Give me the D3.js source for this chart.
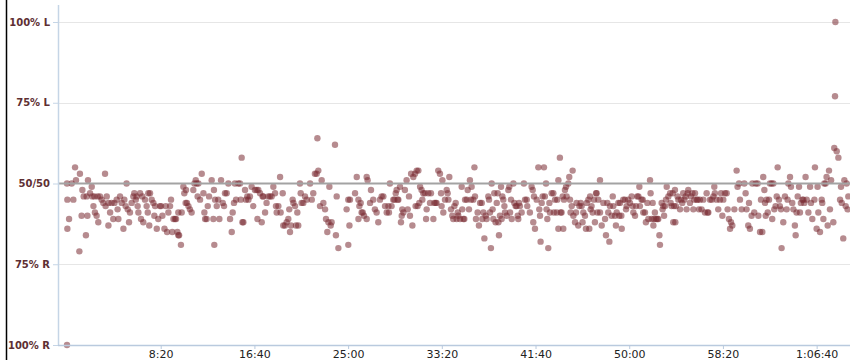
<!DOCTYPE html>
<html><head><meta charset="utf-8">
<script src="https://cdn.jsdelivr.net/npm/d3@7"></script>
<style>html,body{margin:0;padding:0;background:#fff;} svg{display:block}</style>
</head><body><svg id="c" width="850" height="360"></svg>
<script>
const yTickValues=[0,25,50,75,100];
const yTickLabels=["100% R","75% R","50/50","75% L","100% L"];
const xTickValues=[500,1000,1500,2000,2500,3000,3500,4000];

// [seconds, % left (0 = 100% R, 100 = 100% L)]
const seg1=[[0,0],[0,50],[25,50],[2,45],[34,45],[11,39],[2,36],[43,55],[48,51],[69,53],[66,29],[82,48],[89,46],[105,46],[78,40],[109,40],[101,34],[112,51],[123,47],[132,49],[135,46],[146,46],[141,43],[149,41],[158,40],[164,46],[167,38],[176,46],[185,45],[203,53],[194,44],[212,46],[206,43],[221,44],[221,37],[230,41],[238,44],[247,39],[253,44],[265,45],[270,42],[274,39],[283,46],[292,44],[301,36],[306,45],[313,43],[318,50],[324,42],[331,38],[336,41],[345,44],[354,46],[359,47],[367,45],[372,46],[377,43],[381,41],[390,47],[395,39],[402,46],[407,38],[416,45],[425,43],[431,41],[434,47],[443,47],[452,45],[439,37],[461,44],[466,40],[470,43],[479,36],[487,39],[496,43],[502,43],[509,40],[520,36],[527,43],[534,35],[541,41],[550,43],[555,45],[562,35],[568,39],[576,39],[582,39],[589,35],[594,34],[598,34],[594,41],[608,31],[612,41],[621,49],[626,47],[633,44],[640,44],[648,43],[656,42],[635,48],[665,41],[674,48],[680,50],[687,51],[692,50],[701,50],[697,46],[710,45],[719,53],[728,47],[733,41],[737,39],[745,39],[751,43],[758,46]];
const seg2=[[772,51],[784,48],[790,45],[781,39],[786,31],[799,43],[807,45],[813,39],[822,51],[831,44],[843,47],[838,43],[852,47],[861,50],[870,39],[879,35],[884,41],[891,44],[896,50],[902,45],[914,50],[923,50],[932,58],[927,45],[936,38],[941,38],[950,48],[955,45],[962,46],[968,45],[976,46],[985,49],[994,43],[1003,48],[1012,48],[1021,48],[1016,39],[1030,47],[1039,38],[1044,46],[1048,46],[1057,41],[1065,44],[1074,46],[1083,46],[1092,46],[1101,49],[1110,47],[1115,43],[1119,41],[1128,43],[1137,52],[1140,41],[1151,47],[1154,37],[1163,37],[1172,38],[1181,39],[1186,42],[1190,35],[1195,37],[1204,45],[1208,44],[1217,43],[1222,37],[1229,41],[1234,37],[1243,50],[1247,47],[1252,44],[1261,44],[1270,46],[1279,45],[1297,50],[1306,45],[1314,47],[1323,53],[1332,53],[1336,64],[1341,54],[1350,43],[1359,51],[1368,44],[1377,42],[1382,39],[1395,38],[1400,49],[1407,37],[1412,38],[1389,35],[1430,62],[1435,34],[1439,46],[1448,30],[1492,42],[1501,45],[1507,37],[1510,45],[1501,31],[1537,47],[1546,52],[1555,45],[1560,43],[1567,44],[1572,41],[1578,41],[1585,40],[1555,39]];
const seg3=[[1599,52],[1604,51],[1599,39],[1622,48],[1617,44],[1634,45],[1643,42],[1652,41],[1661,38],[1670,45],[1679,46],[1688,46],[1697,43],[1706,41],[1715,43],[1718,41],[1723,50],[1732,43],[1741,45],[1747,45],[1754,47],[1759,48],[1764,45],[1768,45],[1777,49],[1782,38],[1786,40],[1789,42],[1795,41],[1803,48],[1812,51],[1818,42],[1825,46],[1830,40],[1836,53],[1843,37],[1848,52],[1857,53],[1860,43],[1866,54],[1875,54],[1871,43],[1880,44],[1884,49],[1892,48],[1896,45],[1901,47],[1910,47],[1916,39],[1919,42],[1928,47],[1937,44],[1942,47],[1955,39],[1960,44],[1967,44],[1972,44],[1981,54],[1990,53],[1996,47],[1999,43],[2003,51],[2008,41],[2017,45],[2026,48],[2031,47],[2035,45],[2040,52],[2049,42],[2056,40],[2061,39],[2067,43],[2074,44],[2079,39],[2085,41],[2088,40],[2097,39],[2106,49],[2109,42],[2115,39],[2120,39],[2124,45],[2133,45],[2138,48],[2145,42],[2150,51],[2156,45],[2159,49],[2168,45],[2174,55],[2177,46],[2182,39],[2191,41],[2198,37],[2204,44],[2213,44],[2216,39],[2222,41],[2227,33],[2234,40],[2239,39],[2248,46],[2252,45],[2257,41],[2262,30],[2266,50],[2271,42],[2275,39],[2280,47],[2287,38],[2293,44],[2298,47],[2302,38],[2305,34],[2310,40],[2316,49],[2319,39],[2323,46],[2328,45],[2334,43],[2337,41],[2346,40],[2355,48],[2360,49],[2364,41],[2369,45],[2373,39],[2382,50],[2387,44],[2394,43],[2399,43],[2405,40],[2408,39],[2412,44]];
const seg4=[[2417,43],[2426,41],[2438,50],[2444,45],[2453,45],[2456,43],[2470,41],[2479,49],[2485,48],[2488,38],[2492,46],[2497,36],[2506,45],[2515,55],[2520,42],[2524,40],[2527,32],[2533,44],[2538,46],[2545,55],[2550,46],[2556,50],[2559,42],[2563,39],[2568,30],[2574,44],[2577,41],[2586,47],[2595,47],[2598,41],[2604,45],[2613,41],[2616,45],[2622,51],[2622,36],[2630,58],[2634,41],[2639,41],[2648,36],[2645,46],[2652,45],[2657,48],[2663,49],[2666,46],[2675,50],[2680,52],[2684,45],[2687,41],[2693,43],[2698,54],[2702,40],[2711,38],[2716,41],[2719,44],[2728,37],[2734,43],[2741,44],[2746,43],[2751,38],[2755,41],[2764,40],[2769,36],[2773,44],[2782,45],[2787,36],[2791,46],[2794,42],[2799,43],[2805,41],[2812,45],[2817,38],[2823,47],[2826,47],[2830,41],[2835,45],[2844,51],[2844,41],[2853,37],[2862,44],[2871,39],[2876,34],[2883,44],[2888,41],[2894,32],[2897,43],[2906,40],[2912,46],[2915,43],[2924,40],[2929,37],[2933,41],[2942,44],[2947,40],[2951,44],[2960,36],[2958,40],[2968,45],[2977,45],[2983,42],[2986,43],[2995,45],[3004,44],[3013,46],[3018,43],[3022,41],[3031,40],[3036,43],[3043,46],[3049,46],[3054,49],[3057,43],[3066,45],[3072,45],[3075,41],[3084,41],[3089,38],[3097,44],[3102,39],[3111,51],[3114,47],[3120,39],[3125,44],[3129,37],[3132,39],[3137,41],[3143,39],[3150,39],[3155,39],[3161,34],[3164,31],[3173,44],[3178,42],[3182,43],[3186,40],[3191,43],[3196,45],[3200,49],[3209,46],[3218,47],[3221,44],[3226,43],[3232,47],[3235,38],[3239,43]];
const seg5=[[3244,48],[3249,43],[3246,38],[3258,46],[3262,45],[3271,42],[3276,45],[3283,44],[3288,47],[3294,45],[3301,46],[3306,42],[3312,47],[3315,48],[3324,44],[3329,46],[3337,47],[3342,42],[3347,45],[3351,47],[3360,45],[3365,45],[3372,42],[3377,45],[3386,42],[3395,45],[3404,41],[3413,47],[3418,41],[3422,41],[3431,45],[3440,45],[3449,46],[3454,49],[3457,47],[3466,45],[3475,42],[3484,45],[3490,47],[3497,40],[3502,45],[3511,47],[3520,47],[3525,42],[3532,39],[3538,36],[3543,38],[3550,37],[3561,42],[3573,54],[3578,49],[3586,50],[3591,45],[3600,42],[3614,50],[3621,47],[3626,42],[3635,37],[3639,44],[3644,36],[3653,40],[3657,50],[3667,41],[3675,50],[3685,50],[3689,40],[3698,35],[3703,45],[3710,35],[3715,52],[3721,48],[3724,44],[3728,40],[3733,45],[3739,41],[3746,45],[3751,50],[3760,50],[3763,39],[3769,50],[3774,42],[3781,43],[3787,46],[3792,55],[3799,45],[3804,43],[3810,42],[3813,30],[3822,38],[3831,46],[3840,42],[3845,45],[3849,50],[3858,52],[3863,49],[3870,44],[3876,42],[3884,37],[3888,34],[3893,41],[3899,46],[3906,49],[3911,41],[3916,44],[3924,45],[3929,45],[3934,44],[3941,52],[3947,45],[3956,41],[3965,49],[3970,44],[3977,39],[3988,45],[3991,55],[4000,36],[4005,49],[4009,41],[4018,35],[4027,45],[4030,44],[4036,39],[4041,50],[4048,50],[4053,52],[4059,37],[4066,54],[4071,42],[4077,51],[4089,38],[4094,61],[4107,60],[4116,58],[4125,45],[4130,49],[4134,44],[4142,33],[4148,51],[4155,43],[4160,50],[4165,42],[4169,46],[4098,77],[4100,100]];

const points=[].concat(seg1,seg2,seg3,seg4,seg5);

const svg=d3.select("#c");
const x=d3.scaleLinear().domain([0,4178]).range([67,850]);
const y=d3.scaleLinear().domain([0,100]).range([345,22]);
const left=58, right=850;

// frame line on the far left
svg.append("line").attr("x1",6.5).attr("x2",6.5).attr("y1",0).attr("y2",360)
  .attr("stroke","#000").attr("stroke-width",1.5);

// gridlines
svg.append("g").selectAll("line").data(yTickValues.filter(v=>v!==0&&v!==50)).join("line")
  .attr("x1",left).attr("x2",right).attr("y1",d=>Math.round(y(d))+0.5).attr("y2",d=>Math.round(y(d))+0.5)
  .attr("stroke","#e6e6e6").attr("stroke-width",1);

// points
svg.append("g").selectAll("circle").data(points).join("circle")
  .attr("cx",d=>x(d[0])).attr("cy",d=>y(d[1])).attr("r",3.2)
  .attr("fill","#7a2c33").attr("fill-opacity",0.55);

// 50/50 line
svg.append("line").attr("x1",left).attr("x2",right).attr("y1",y(50)).attr("y2",y(50))
  .attr("stroke","#a3a3a3").attr("stroke-width",2);

// axis lines
svg.append("line").attr("x1",left+0.5).attr("x2",left+0.5).attr("y1",5).attr("y2",346)
  .attr("stroke","#c5d5e6").attr("stroke-width",1.5);
svg.append("line").attr("x1",left).attr("x2",right).attr("y1",345.5).attr("y2",345.5)
  .attr("stroke","#b9cade").attr("stroke-width",1.5);

// y axis
const yAxis=svg.append("g").attr("transform",`translate(${left},0)`)
  .call(d3.axisLeft(y).tickValues(yTickValues).tickFormat((d,i)=>yTickLabels[i]).tickSize(5).tickPadding(3));
yAxis.select(".domain").remove();
yAxis.selectAll(".tick line").attr("stroke","#c5d5e6");
yAxis.selectAll("text").attr("fill","#5e2f33").style("font-family","DejaVu Sans, sans-serif")
  .style("font-size","10px").style("font-weight","bold");

// x axis
const fmt=s=>{const h=Math.floor(s/3600),m=Math.floor(s%3600/60),ss=s%60,p=n=>String(n).padStart(2,"0");
  return h?`${h}:${p(m)}:${p(ss)}`:`${m}:${p(ss)}`;};
const xAxis=svg.append("g").attr("transform","translate(0,345)")
  .call(d3.axisBottom(x).tickValues(xTickValues).tickFormat(fmt).tickSize(4).tickPadding(1));
xAxis.select(".domain").remove();
xAxis.selectAll(".tick line").attr("stroke","#b9cade");
xAxis.selectAll("text").attr("fill","#222").style("font-family","DejaVu Sans, sans-serif").style("font-size","11px");
</script></body></html>
